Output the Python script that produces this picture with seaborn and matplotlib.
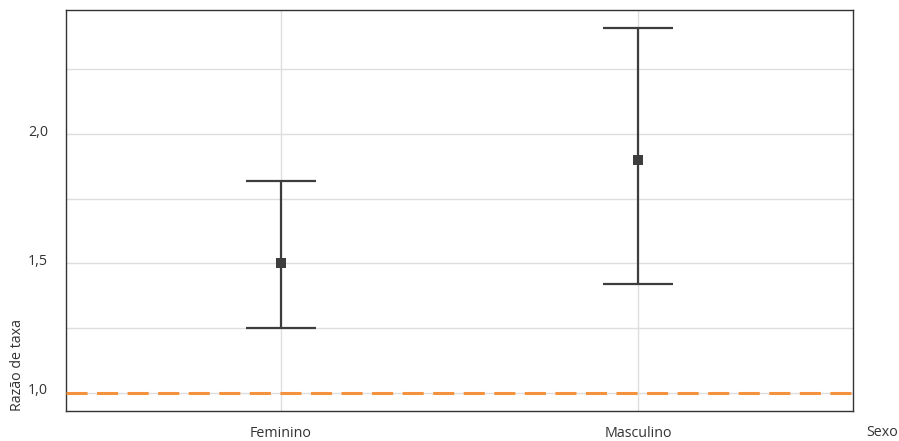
import matplotlib
matplotlib.use("Agg")
import matplotlib.pyplot as plt
import matplotlib.transforms as mtransforms
import seaborn as sns
import pandas as pd
from matplotlib.ticker import FixedLocator, FuncFormatter

categories = ["Feminino", "Masculino"]
estimate = [1.50, 1.90]
lower = [1.25, 1.42]
upper = [1.82, 2.41]
major_ticks = [1.0, 1.5, 2.0]
minor_ticks = [1.25, 1.75, 2.25]

sns.set_theme(style="white")
plt.rcParams['font.family'] = ['Open Sans', 'DejaVu Sans']

df = pd.DataFrame({"Sexo": categories, "RT": estimate, "lo": lower, "hi": upper})

fig = plt.figure(figsize=(8.99, 4.41), dpi=100)
ax = fig.add_axes([66/899, 1 - 411/441, (853-66)/899, (411-10)/441])

line_col = "#3d3d3d"
ax.errorbar(df["Sexo"], df["RT"],
            yerr=[df["RT"] - df["lo"], df["hi"] - df["RT"]],
            fmt="none", ecolor=line_col, elinewidth=1.6, capsize=25.5, capthick=1.6, zorder=3)
sns.scatterplot(data=df, x="Sexo", y="RT", marker="s", s=58, color=line_col,
                edgecolor=line_col, linewidth=0, ax=ax, zorder=4)

ax.axhline(1.0, color="#f5923e", lw=2.2, ls=(0, (6.9, 3.1)), zorder=5)

ax.set_xlim(-0.6, 1.6)
ax.set_ylim(0.93, 2.479)
ax.yaxis.set_major_locator(FixedLocator(major_ticks))
ax.yaxis.set_minor_locator(FixedLocator(minor_ticks))
ax.yaxis.set_major_formatter(FuncFormatter(lambda v, p: f"{v:.1f}".replace(".", ",")))
ax.grid(True, which="both", axis="y", color="#dedede", lw=1)
ax.grid(True, which="major", axis="x", color="#dedede", lw=1)
ax.set_axisbelow(True)
for s in ax.spines.values():
    s.set_color("#333333")
    s.set_linewidth(1)
ax.tick_params(axis="both", which="both", length=0, labelsize=10.3, labelcolor="#333333")
ax.tick_params(axis="y", pad=13)
ax.tick_params(axis="x", pad=11)

# y tick labels sit slightly above their gridlines in the reference
offset = mtransforms.ScaledTranslation(0, 4/100, fig.dpi_scale_trans)
for lbl in ax.get_yticklabels():
    lbl.set_transform(lbl.get_transform() + offset)

ax.set_ylabel("Razão de taxa", fontsize=10.3, color="#333333")
ax.yaxis.set_label_coords(-0.052, 0.0)
ax.yaxis.label.set_ha("left")
ax.set_xlabel("Sexo", fontsize=10.3, color="#333333")
ax.xaxis.set_label_coords(1.0 + 13/787, -21/401)
ax.xaxis.label.set_va("center")
ax.xaxis.label.set_ha("left")

fig.savefig("out.png", dpi=100)
